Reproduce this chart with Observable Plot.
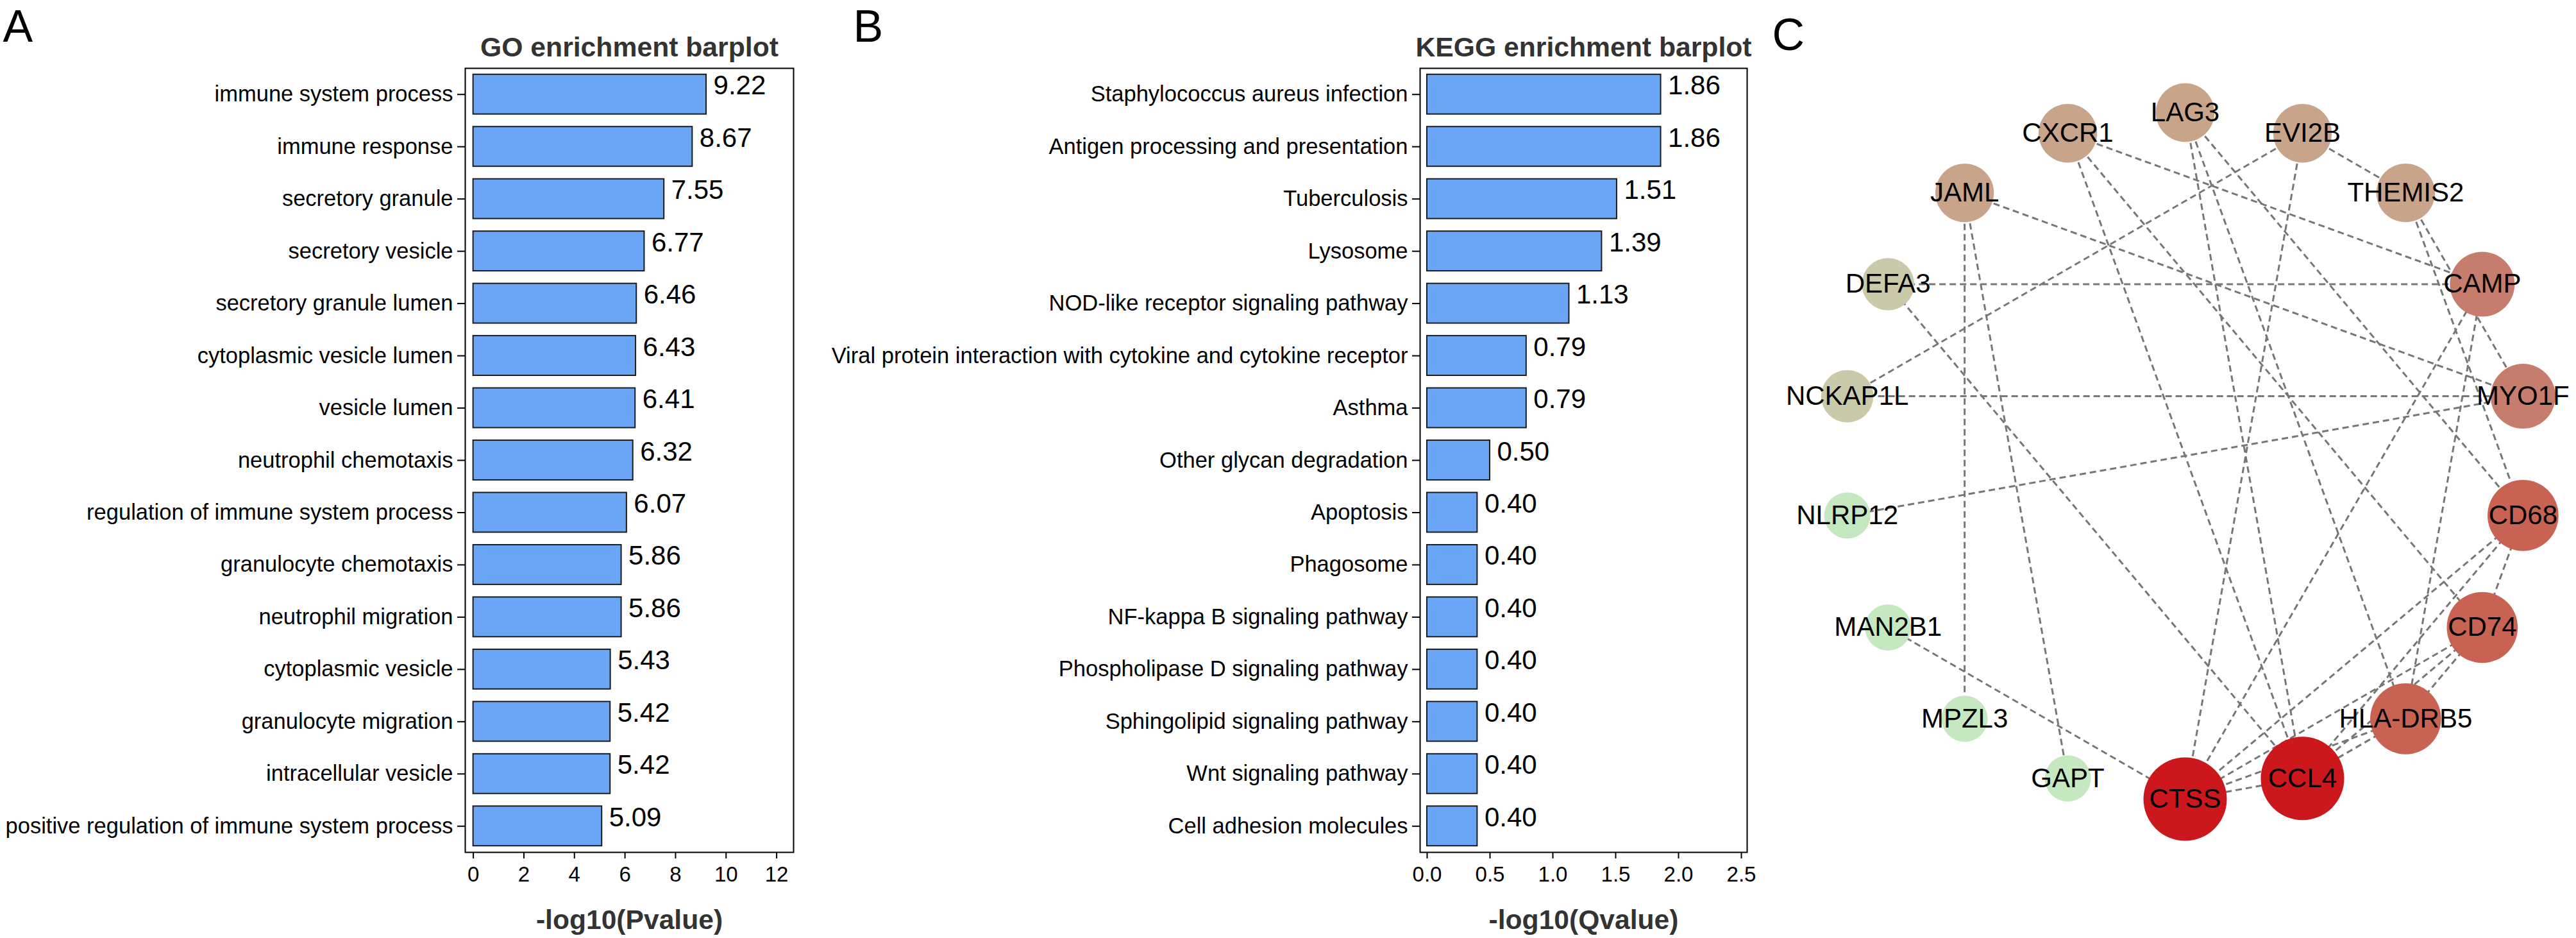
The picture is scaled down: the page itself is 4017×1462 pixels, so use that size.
<!DOCTYPE html>
<html>
<head>
<meta charset="utf-8">
<script src="https://cdn.jsdelivr.net/npm/d3@7"></script>
<script src="https://cdn.jsdelivr.net/npm/@observablehq/plot@0.6"></script>
<style>
  body { margin: 0; background: #fff; }
  #fig { position: relative; width: 4017px; height: 1462px; background: #fff; overflow: hidden;
         font-family: "Liberation Sans", Arial, sans-serif; }
  #fig svg { position: absolute; top: 0; }
</style>
</head>
<body>
<div id="fig"></div>
<script>
// ---------- data ----------
const goTerms = [
  "immune system process", "immune response", "secretory granule", "secretory vesicle",
  "secretory granule lumen", "cytoplasmic vesicle lumen", "vesicle lumen", "neutrophil chemotaxis",
  "regulation of immune system process", "granulocyte chemotaxis", "neutrophil migration",
  "cytoplasmic vesicle", "granulocyte migration", "intracellular vesicle",
  "positive regulation of immune system process"
];
const goValues = [9.22, 8.67, 7.55, 6.77, 6.46, 6.43, 6.41, 6.32, 6.07, 5.86, 5.86, 5.43, 5.42, 5.42, 5.09];
const goTicks = [0, 2, 4, 6, 8, 10, 12];

const keggTerms = [
  "Staphylococcus aureus infection", "Antigen processing and presentation", "Tuberculosis", "Lysosome",
  "NOD-like receptor signaling pathway", "Viral protein interaction with cytokine and cytokine receptor",
  "Asthma", "Other glycan degradation", "Apoptosis", "Phagosome", "NF-kappa B signaling pathway",
  "Phospholipase D signaling pathway", "Sphingolipid signaling pathway", "Wnt signaling pathway",
  "Cell adhesion molecules"
];
const keggValues = [1.86, 1.86, 1.51, 1.39, 1.13, 0.79, 0.79, 0.50, 0.40, 0.40, 0.40, 0.40, 0.40, 0.40, 0.40];
const keggTicks = [0, 0.5, 1, 1.5, 2, 2.5];

// network nodes in circular order (clockwise from top)
const nodeNames = ["LAG3", "EVI2B", "THEMIS2", "CAMP", "MYO1F", "CD68", "CD74", "HLA-DRB5", "CCL4",
                   "CTSS", "GAPT", "MPZL3", "MAN2B1", "NLRP12", "NCKAP1L", "DEFA3", "JAML", "CXCR1"];
const edgeSource = ["EVI2B", "EVI2B", "EVI2B", "DEFA3", "DEFA3", "NCKAP1L", "JAML", "JAML", "JAML", "CXCR1",
                    "CXCR1", "CXCR1", "LAG3", "LAG3", "LAG3", "THEMIS2", "THEMIS2", "MAN2B1", "NLRP12", "CAMP",
                    "CAMP", "CD68", "CD68", "CD68", "CD74", "CD74", "CD74", "HLA-DRB5", "HLA-DRB5", "CCL4"];
const edgeTarget = ["THEMIS2", "NCKAP1L", "CTSS", "CAMP", "CCL4", "MYO1F", "MYO1F", "MPZL3", "GAPT", "CAMP",
                    "CCL4", "CD74", "CCL4", "HLA-DRB5", "CD68", "MYO1F", "CD68", "CTSS", "MYO1F", "CTSS",
                    "HLA-DRB5", "CD74", "CTSS", "CCL4", "CTSS", "CCL4", "HLA-DRB5", "CCL4", "CTSS", "CTSS"];
const degreeLevels = [1, 2, 3, 4, 5, 7];

// ---------- helpers ----------
const FONT = "'Liberation Sans', Arial, sans-serif";
const fig = document.getElementById("fig");

function barPanel(o) {
  const data = o.terms.map((t, i) => ({term: t, value: o.values[i]}));
  const svg = Plot.plot({
    width: o.width, height: 1462,
    marginLeft: o.marginLeft, marginRight: o.marginRight, marginTop: 106, marginBottom: 134,
    style: {fontFamily: FONT, fontSize: "34px", color: "black", background: "transparent", overflow: "visible"},
    x: {domain: o.domain, round: false},
    y: {domain: o.terms, paddingInner: 0.24, paddingOuter: 0.12, round: false},
    marks: [
      Plot.barX(data, {x: "value", y: "term", fill: "#6aa5f6", stroke: "#1c1c1c", strokeWidth: 2}),
      Plot.frame({stroke: "black", strokeWidth: 2}),
      Plot.axisX({ticks: o.ticks, tickFormat: o.tickFormat, tickSize: 10, tickPadding: 12,
                  fontSize: 33, label: null, strokeWidth: 2, fill: "black"}),
      Plot.axisY({tickSize: 12, tickPadding: 7, fontSize: 34.5, label: null, strokeWidth: 2, fill: "black"}),
      Plot.text(data, {x: "value", y: "term", text: d => d.value.toFixed(2), textAnchor: "start",
                       dx: 11, lineAnchor: "bottom", fontSize: 42, fill: "black"}),
      Plot.text([o.title], {frameAnchor: "top", lineAnchor: "bottom", dy: -19, fontSize: 42.7,
                            fontWeight: "bold", fill: "#333"}),
      Plot.text([o.xlabel], {frameAnchor: "bottom", lineAnchor: "bottom", dy: 119, fontSize: 42.6,
                             fontWeight: "bold", fill: "#333"}),
      Plot.text([o.letter], {frameAnchor: "top-left", textAnchor: "start", lineAnchor: "bottom",
                             dx: o.letterDx, dy: -42, fontSize: 70, fill: "black"})
    ]
  });
  svg.style.left = o.left + "px";
  fig.appendChild(svg);
}

barPanel({
  terms: goTerms, values: goValues, ticks: goTicks, tickFormat: d3.format("d"),
  domain: [-0.32, 12.67], left: 0, width: 1300, marginLeft: 725, marginRight: 63,
  title: "GO enrichment barplot", xlabel: "-log10(Pvalue)", letter: "A", letterDx: -721
});

barPanel({
  terms: keggTerms, values: keggValues, ticks: keggTicks, tickFormat: d3.format(".1f"),
  domain: [-0.056, 2.546], left: 1300, width: 1450, marginLeft: 914, marginRight: 26,
  title: "KEGG enrichment barplot", xlabel: "-log10(Qvalue)", letter: "B", letterDx: -884
});

// ---------- network ----------
const degree = new Map(nodeNames.map(n => [n, 0]));
edgeSource.forEach((s, i) => { degree.set(s, degree.get(s) + 1); degree.set(edgeTarget[i], degree.get(edgeTarget[i]) + 1); });
const nodes = nodeNames.map((name, i) => {
  const a = i * 2 * Math.PI / nodeNames.length;
  return {name, cx: Math.sin(a), cy: Math.cos(a), degree: degree.get(name)};
});
const pos = new Map(nodes.map(n => [n.name, n]));
const edges = edgeSource.map((s, i) => ({a: pos.get(s), b: pos.get(edgeTarget[i])}));

const net = Plot.plot({
  width: 1367, height: 1462, margin: 0,
  style: {fontFamily: FONT, fontSize: "42px", color: "black", background: "transparent", overflow: "visible"},
  x: {domain: [-1, 1], range: [222, 1292], axis: null},
  y: {domain: [-1, 1], range: [1245, 175], axis: null},
  r: {type: "linear", domain: [1, 7], range: [36, 65]},
  color: {type: "ordinal", domain: degreeLevels,
          range: ["#c5e8c1", "#cacaaa", "#c8a48a", "#c77d6d", "#c86354", "#cc171c"]},
  marks: [
    Plot.link(edges, {x1: d => d.a.cx, y1: d => d.a.cy, x2: d => d.b.cx, y2: d => d.b.cy,
                      stroke: "#777", strokeWidth: 3, strokeDasharray: "10,6"}),
    Plot.dot(nodes, {x: "cx", y: "cy", r: "degree", fill: "degree", stroke: null}),
    Plot.text(nodes, {x: "cx", y: "cy", text: "name", fontSize: 42, fill: "black"}),
    Plot.text(["C"], {frameAnchor: "top-left", textAnchor: "start", lineAnchor: "bottom",
                      dx: 113, dy: 77, fontSize: 70, fill: "black"})
  ]
});
net.style.left = "2650px";
fig.appendChild(net);
</script>
</body>
</html>
